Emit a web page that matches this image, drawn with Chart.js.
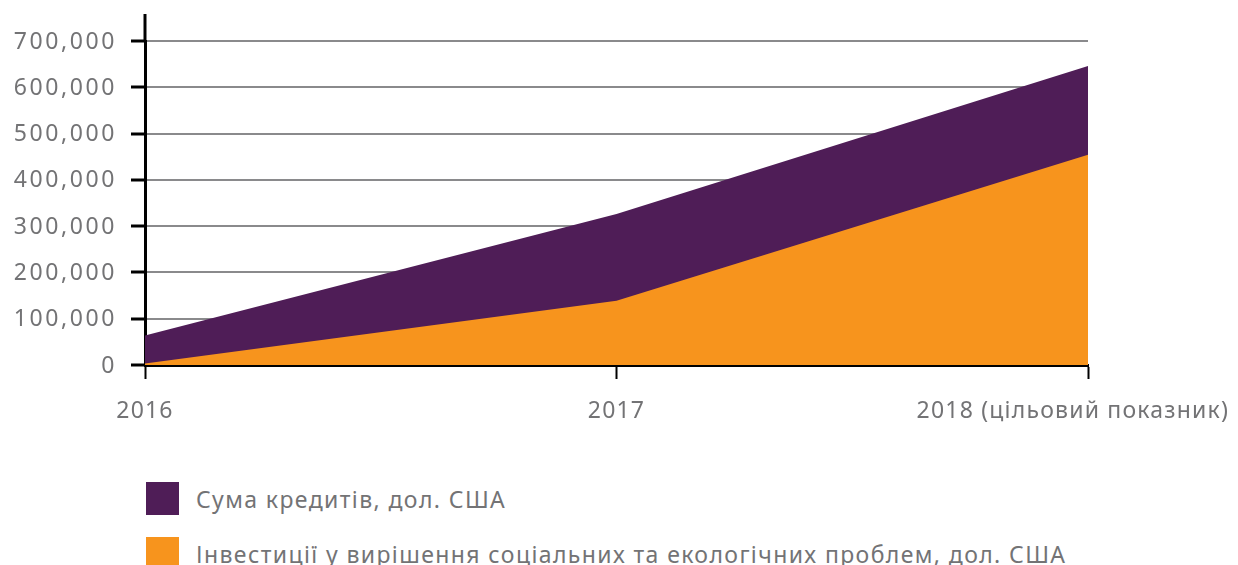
<!DOCTYPE html>
<html>
<head>
<meta charset="utf-8">
<script src="https://cdn.jsdelivr.net/npm/chart.js@4"></script>
<style>
  html, body { margin: 0; padding: 0; background: #fff; }
  body { width: 1238px; height: 565px; position: relative; overflow: hidden; font-family: "Noto Sans", sans-serif; }
  #wrap { position: absolute; left: 0; top: 0; width: 1238px; height: 450px; }
  .legend { position: absolute; left: 146px; top: 482px; }
  .legend-item { display: flex; align-items: center; height: 33px; margin-bottom: 22px; color: #737375; font-size: 23px; letter-spacing: 1.4px; white-space: nowrap; }
  .legend-item .sw { width: 33px; height: 33px; margin-right: 17px; flex: none; }
</style>
</head>
<body>
<div id="wrap"><canvas id="areaChart"></canvas></div>
<div class="legend" id="legend"></div>
<script>
const years = ["2016", "2017", "2018 (цільовий показник)"];
const loans = [64000, 326000, 646000];
const investments = [3000, 139000, 454000];
const yTicks = [0, 100000, 200000, 300000, 400000, 500000, 600000, 700000];
const seriesNames = ["Сума кредитів, дол. США", "Інвестиції у вирішення соціальних та екологічних проблем, дол. США"];

const purple = "#4f1d57";
const orange = "#f7941d";
const textGray = "#737375";

/* labels + axis extension drawn by hand (letter spacing, last label kept inside) */
const extras = {
    id: "extras",
    afterDraw(chart) {
        const { ctx, scales } = chart;
        const x = scales.x, y = scales.y;
        ctx.save();
        // y axis continues above the top tick
        ctx.strokeStyle = "#000";
        ctx.lineWidth = 3;
        ctx.beginPath();
        ctx.moveTo(x.left, y.top);
        ctx.lineTo(x.left, 14);
        ctx.stroke();

        ctx.font = "23px 'Noto Sans'";
        ctx.fillStyle = textGray;
        ctx.textBaseline = "middle";

        // y tick labels
        ctx.letterSpacing = "2.6px";
        ctx.textAlign = "right";
        yTicks.forEach(v => {
            ctx.fillText(v.toLocaleString("en-US"), 117, y.getPixelForValue(v) + 1);
        });

        // category labels
        ctx.letterSpacing = "1.2px";
        ctx.textAlign = "center";
        years.forEach((lbl, i) => {
            const px = x.getPixelForValue(i);
            const w = ctx.measureText(lbl).width;
            let cx = px;
            if (cx + w / 2 > chart.width - 9) cx = chart.width - 9 - w / 2;
            ctx.fillText(lbl, cx, 411);
        });
        ctx.restore();
    }
};

new Chart(document.getElementById("areaChart"), {
    type: "line",
    data: {
        labels: years,
        datasets: [
            {
                label: seriesNames[1],
                data: investments,
                backgroundColor: orange,
                borderWidth: 0,
                pointRadius: 0,
                fill: "origin",
                tension: 0
            },
            {
                label: seriesNames[0],
                data: loans,
                backgroundColor: purple,
                borderWidth: 0,
                pointRadius: 0,
                fill: "origin",
                tension: 0
            }
        ]
    },
    options: {
        responsive: true,
        maintainAspectRatio: false,
        animation: false,
        layout: { padding: { top: 41, right: 150, left: 0, bottom: 0 } },
        plugins: {
            legend: { display: false },
            tooltip: { enabled: false }
        },
        scales: {
            x: {
                offset: false,
                grid: { display: true, drawOnChartArea: false, drawTicks: true, tickLength: 14, tickColor: "#000", tickWidth: 2 },
                border: { color: "#000", width: 3 },
                ticks: { display: false },
                afterFit(scale) { scale.height = 450 - 365; }
            },
            y: {
                min: 0,
                max: 700000,
                afterBuildTicks(scale) { scale.ticks = yTicks.map(v => ({ value: v })); },
                grid: { color: "#8a8a8c", lineWidth: 2, drawTicks: true, tickLength: 14, tickColor: "#000", tickWidth: 3 },
                border: { color: "#000", width: 3 },
                ticks: { display: false },
                afterFit(scale) { scale.width = 145; }
            }
        }
    },
    plugins: [extras]
});

document.getElementById("legend").innerHTML = [
    { name: seriesNames[0], color: purple },
    { name: seriesNames[1], color: orange }
].map(s => `
    <div class="legend-item">
        <div class="sw" style="background:${s.color}"></div>
        <span>${s.name}</span>
    </div>
`).join("");
</script>
</body>
</html>
